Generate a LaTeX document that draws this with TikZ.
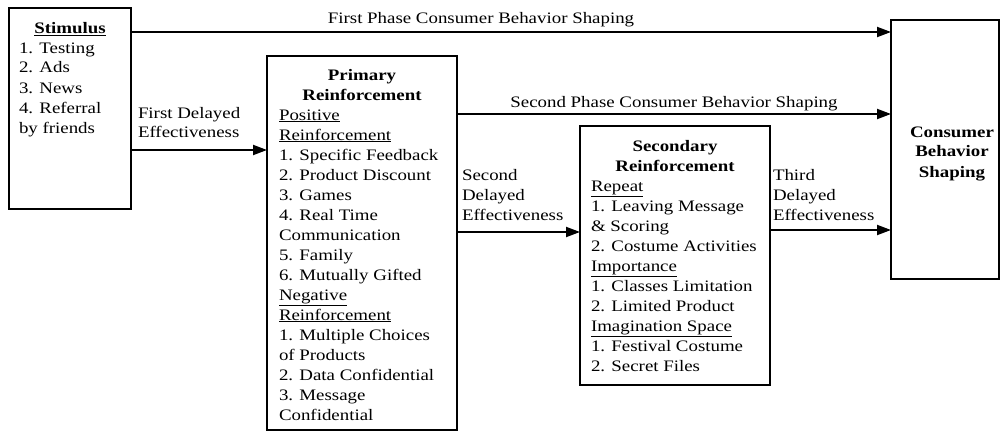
\documentclass[tikz,border=0pt]{standalone}
\usepackage{fontspec}
\setmainfont{Liberation Serif}[FakeStretch=1.18]
\usetikzlibrary{arrows.meta}
\newcommand\uln[1]{\underline{#1}}
\begin{document}
\begin{tikzpicture}[x=1pt,y=-1pt,
  every node/.style={inner sep=0pt,outer sep=0pt,font=\fontsize{16}{20}\selectfont},
  box/.style={draw,line width=2pt,anchor=north west,rectangle},
  txt/.style={align=left,anchor=base west},
  head/.style={align=center,anchor=base,font=\fontsize{16}{20}\selectfont\bfseries},
  arr/.style={line width=2pt,-{Triangle[length=14pt,width=10pt]}}]
\useasboundingbox (0,0) rectangle (1003,433);

% boxes
\node[box,minimum width=122,minimum height=201] (stim) at (9,8) {};
\node[box,minimum width=190,minimum height=374] (prim) at (267,56) {};
\node[box,minimum width=190,minimum height=259] (sec) at (580,126) {};
\node[box,minimum width=108,minimum height=259] (cons) at (891,20) {};

% box contents (multi-line nodes are anchored at the baseline of their last line)
\node[head] (stimh) at (70,34) {\uln{Stimulus}};
\node[txt] (stimt) at (19,133) {1. Testing\\2. Ads\\3. News\\4. Referral\\by friends};

\node[head] (primh) at (362,101) {Primary\\Reinforcement};
\node[txt] (primt) at (279,420) {\uln{Positive}\\\uln{Reinforcement}\\1. Specific Feedback\\2. Product Discount\\3. Games\\4. Real Time\\Communication\\5. Family\\6. Mutually Gifted\\\uln{Negative}\\\uln{Reinforcement}\\1. Multiple Choices\\of Products\\2. Data Confidential\\3. Message\\Confidential};

\node[head] (sech) at (675,171) {Secondary\\Reinforcement};
\node[txt] (sect) at (591,371) {\uln{Repeat}\\1. Leaving Message\\\& Scoring\\2. Costume Activities\\\uln{Importance}\\1. Classes Limitation\\2. Limited Product\\\uln{Imagination Space}\\1. Festival Costume\\2. Secret Files};

\node[head] (consh) at (952,177) {Consumer\\Behavior\\Shaping};

% connector levels
\coordinate (y1) at (0,32);
\coordinate (y2) at (0,150);
\coordinate (y3) at (0,114);
\coordinate (y4) at (0,232);
\coordinate (y5) at (0,230);

\draw[arr] (stim.east |- y1) -- (cons.west |- y1);
\draw[arr] (stim.east |- y2) -- (prim.west |- y2);
\draw[arr] (prim.east |- y3) -- (cons.west |- y3);
\draw[arr] (prim.east |- y4) -- (sec.west |- y4);
\draw[arr] (sec.east |- y5) -- (cons.west |- y5);

% connector labels
\node[anchor=base] (l1) at (481,24) {First Phase Consumer Behavior Shaping};
\node[anchor=base] (l3) at (674,107) {Second Phase Consumer Behavior Shaping};
\node[txt] (l2) at (138,138) {First Delayed\\Effectiveness};
\node[txt] (l4) at (462,220) {Second\\Delayed\\Effectiveness};
\node[txt] (l5) at (773,220) {Third\\Delayed\\Effectiveness};
\end{tikzpicture}
\end{document}
